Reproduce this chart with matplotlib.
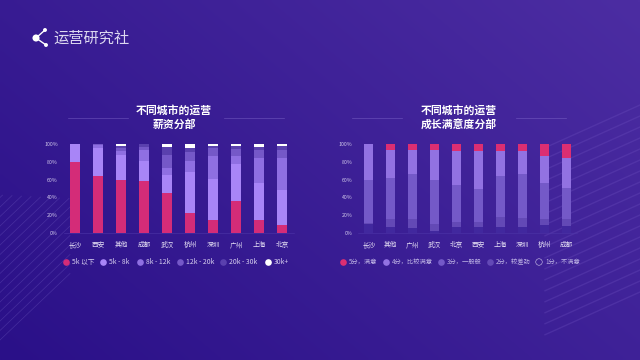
import matplotlib
matplotlib.use("Agg")
import matplotlib.pyplot as plt
import numpy as np

plt.rcParams['font.family'] = ['Noto Sans CJK SC', 'DejaVu Sans']

W, H = 640, 360

percent_ticks = [0, 20, 40, 60, 80, 100]
percent_labels = ["0%", "20%", "40%", "60%", "80%", "100%"]

salary_cities = ["长沙", "西安", "其他", "成都", "武汉", "杭州", "深圳", "广州", "上海", "北京"]
salary_names = ["5k 以下", "5k - 8k", "8k - 12k", "12k - 20k", "20k - 30k", "30k+"]
salary_values = [
    [80, 64, 60, 59, 45, 22, 14, 36, 14, 9],
    [20, 32, 28, 22, 20, 47, 47, 42, 42, 39],
    [0, 3, 4, 13, 8, 12, 26, 9, 28, 36],
    [0, 1, 4, 3, 15, 10, 9, 8, 9, 9],
    [0, 0, 2, 3, 9, 5, 2, 3, 4, 5],
    [0, 0, 2, 0, 3, 4, 2, 2, 3, 2],
]
salary_colors = ["#d42c78", "#a885f7", "#8f6fe2", "#7558c8", "#5a40ae", "#ffffff"]

happy_cities = ["长沙", "其他", "广州", "武汉", "北京", "西安", "上海", "深圳", "杭州", "成都"]
happy_names = ["1分，不满意", "2分，较差劲", "3分，一般般", "4分，比较满意", "5分，满意"]
happy_values = [
    [10, 6, 5, 2, 6, 7, 7, 6, 9, 8],
    [1, 9, 11, 8, 6, 5, 11, 11, 6, 8],
    [49, 47, 50, 50, 42, 38, 46, 49, 41, 35],
    [40, 32, 28, 33, 38, 42, 28, 26, 31, 33],
    [0, 6, 6, 7, 8, 8, 8, 8, 13, 16],
]
happy_colors = ["#41289e", "#6349b6", "#7459c8", "#9272e2", "#dc2e72"]


def make_axes(fig, left, right, top, bottom):
    return fig.add_axes([left / W, 1 - bottom / H, (right - left) / W, (bottom - top) / H])


def draw_stack(ax, cities, values, colors, width):
    x = np.arange(len(cities))
    base = np.zeros(len(cities))
    for row, color in zip(values, colors):
        ax.bar(x, row, width, bottom=base, color=color, linewidth=0)
        base = base + np.array(row)
    ax.set_xlim(-0.5, len(cities) - 0.5)
    ax.set_ylim(0, 100)
    ax.set_xticks(x, cities, fontsize=4.8, color="#e6e0f5", fontweight="medium")
    ax.set_yticks(percent_ticks, percent_labels, fontsize=3.8, color="#cfc6ea")
    ax.tick_params(length=0, pad=6)
    ax.tick_params(axis="y", pad=4)
    ax.patch.set_alpha(0)
    for s in ax.spines.values():
        s.set_visible(False)
    ax.spines["bottom"].set_visible(True)
    ax.spines["bottom"].set_color("#4d35a8")
    ax.spines["bottom"].set_linewidth(0.4)


fig = plt.figure(figsize=(W / 100, H / 100), dpi=100)

# background gradient and decoration, in pixel coordinates
bg = fig.add_axes([0, 0, 1, 1])
bg.set_xlim(0, W)
bg.set_ylim(H, 0)
bg.axis("off")
yy, xx = np.mgrid[0:1:90j, 0:1:160j]
t = np.clip(0.6 * xx + 0.4 * (1 - yy), 0, 1)[..., None]
c0 = np.array([0x2a, 0x10, 0x88]) / 255
c1 = np.array([0x4c, 0x2d, 0xa2]) / 255
bg.imshow(c0 + (c1 - c0) * t, extent=[0, W, H, 0], aspect="auto", interpolation="bilinear", zorder=0)

for k in range(16):
    c = 340 - 9.5 * k
    end = min(70, c - 195)
    bg.plot([0, end], [c, c - end * 0.95], color="#6650b8", lw=0.5, alpha=0.45, zorder=1)
for k in range(18):
    y1 = 105 + 11 * k
    bg.plot([640 - 95, 640], [y1 + 95 * 0.45, y1], color="#6f52c0", lw=1.0, alpha=0.3, zorder=1)

for x0, x1 in [(68, 128), (224, 284), (352, 402), (516, 566)]:
    bg.plot([x0, x1], [117.5, 117.5], color="#8f78d8", lw=0.5, alpha=0.5, zorder=1)

# logo
pts = [(36, 38), (45, 30), (46, 45)]
bg.plot([pts[1][0], pts[0][0], pts[2][0]], [pts[1][1], pts[0][1], pts[2][1]], color="white", lw=1, zorder=2)
bg.scatter([p[0] for p in pts], [p[1] for p in pts], s=[26, 8, 8], color="white", linewidths=0, zorder=3)
bg.text(53, 38, "运营研究社", color="#dcd8f0", fontsize=11, va="center", ha="left")

bg.text(174, 110.5, "不同城市的运营", color="white", fontsize=7.8, ha="center", va="center", fontweight="bold")
bg.text(174, 124.5, "薪资分部", color="white", fontsize=7.8, ha="center", va="center", fontweight="bold")
bg.text(459, 110.5, "不同城市的运营", color="white", fontsize=7.8, ha="center", va="center", fontweight="bold")
bg.text(459, 124.5, "成长满意度分部", color="white", fontsize=7.8, ha="center", va="center", fontweight="bold")

ax1 = make_axes(fig, 63.5, 293.5, 144.3, 232.7)
draw_stack(ax1, salary_cities, salary_values, salary_colors, 0.41)

ax2 = make_axes(fig, 357.8, 577, 144.3, 232.7)
draw_stack(ax2, happy_cities, happy_values, happy_colors, 0.41)

# legends, placed by hand to follow the reference
salary_x = [66, 103, 140, 180, 223, 268]
for name, color, px in zip(salary_names, salary_colors, salary_x):
    bg.scatter([px], [262], s=23, color=color, linewidths=0, zorder=3)
    bg.text(px + 6, 262, name, color="#d8d0f0", fontsize=4.9, ha="left", va="center")

happy_x = [539, 490, 441, 386, 343]
for i, (name, color, px) in enumerate(zip(happy_names, happy_colors, happy_x)):
    if i == 0:
        bg.scatter([px], [262], s=22, facecolors="none", edgecolors="#cfc6ea", linewidths=0.4, zorder=3)
    else:
        bg.scatter([px], [262], s=23, color=color, linewidths=0, zorder=3)
    bg.text(px + 6, 262, name, color="#bdb2e4", fontsize=4.5, ha="left", va="center")

fig.savefig("out.png", dpi=100)
